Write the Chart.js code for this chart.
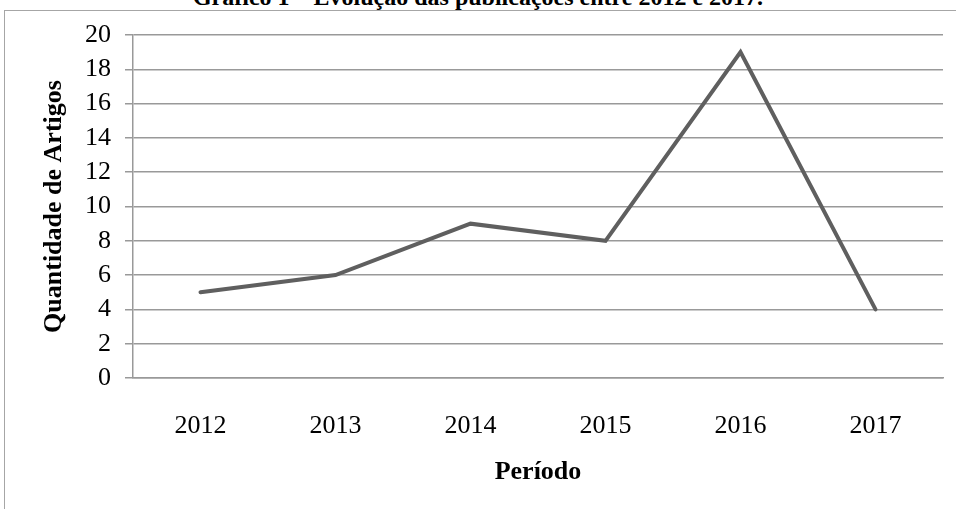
<!DOCTYPE html>
<html>
<head>
<meta charset="utf-8">
<script src="https://cdn.jsdelivr.net/npm/chart.js@4/dist/chart.umd.min.js"></script>
<style>
    html, body { margin: 0; padding: 0; background: #fff; overflow: hidden; }
    #wrap { position: relative; width: 956px; height: 509px; }
    #frame { position: absolute; left: 4px; top: 10px; width: 1000px; height: 600px; border: 1px solid #a6a6a6; }
    #title { position: absolute; left: 0; width: 956px; top: -15px; text-align: center;
        font: bold 24px/24px 'Liberation Serif', serif; color: #000; }
    canvas { position: absolute; left: 0; top: 0; }
</style>
</head>
<body>
<div id="wrap">
    <div id="frame"></div>
    <div id="title">Gráfico 1 – Evolução das publicações entre 2012 e 2017.</div>
    <canvas id="chart" width="956" height="509"></canvas>
</div>
<script>
    // Data
    const years = ['2012', '2013', '2014', '2015', '2016', '2017'];
    const articles = [5, 6, 9, 8, 19, 4];
    const yTicks = [0, 2, 4, 6, 8, 10, 12, 14, 16, 18, 20];

    const serif = "'Liberation Serif', 'Times New Roman', serif";
    const gridGray = '#999999';

    new Chart(document.getElementById('chart'), {
        type: 'line',
        data: {
            labels: years,
            datasets: [{
                label: 'Quantidade de Artigos',
                data: articles,
                borderColor: '#5f5f5f',
                borderWidth: 4,
                borderCapStyle: 'round',
                borderJoinStyle: 'miter',
                pointRadius: 0,
                tension: 0
            }]
        },
        options: {
            responsive: false,
            animation: false,
            layout: { padding: { left: 35, top: 35, right: 13, bottom: 17 } },
            plugins: { legend: { display: false }, tooltip: { enabled: false } },
            scales: {
                x: {
                    offset: true,
                    grid: { display: false, drawTicks: false },
                    border: { display: true, color: gridGray, width: 1.5 },
                    ticks: { color: '#000', padding: 33, font: { family: serif, size: 26 } },
                    title: { display: true, text: 'Período', color: '#000', font: { family: serif, size: 26, weight: 'bold' } },
                    afterFit: function (scale) { scale.height = 114; }
                },
                y: {
                    min: yTicks[0],
                    max: yTicks[yTicks.length - 1],
                    afterBuildTicks: function (scale) { scale.ticks = yTicks.map(v => ({ value: v })); },
                    grid: { color: gridGray, lineWidth: 1.5, tickLength: 8 },
                    border: { display: true, color: gridGray, width: 1.5 },
                    ticks: { color: '#000', padding: 14, font: { family: serif, size: 26 } },
                    title: { display: true, text: 'Quantidade de Artigos', color: '#000', font: { family: serif, size: 26, weight: 'bold' } },
                    afterFit: function (scale) { scale.width = 98; }
                }
            }
        }
    });
</script>
</body>
</html>
